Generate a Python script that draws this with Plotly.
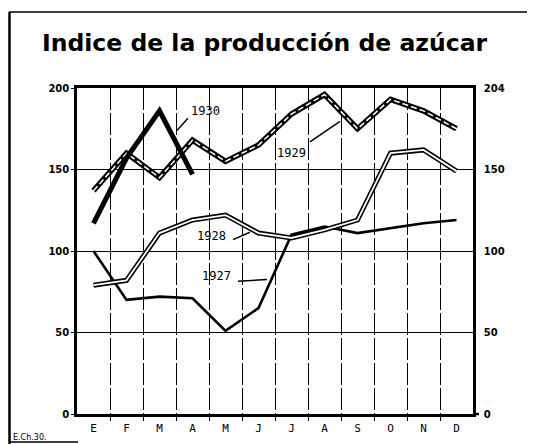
import plotly.graph_objects as go

months = ["E", "F", "M", "A", "M", "J", "J", "A", "S", "O", "N", "D"]
y1927 = [100, 70, 72, 71, 51, 65, 110, 115, 111, 114, 117, 119]
y1928 = [79, 82, 111, 119, 122, 111, 108, 113, 119, 160, 162, 149]
y1929 = [137, 160, 145, 168, 155, 165, 184, 196, 175, 193, 186, 175]
y1930 = [117, 157, 186, 147]
left_ticks = [0, 50, 100, 150, 200]
left_labels = ["0", "50", "100", "150", "200"]
right_labels = ["0", "50", "100", "150", "204"]

xpos = [i + 0.5 for i in range(len(months))]

# page body has an 8px margin: figure is drawn 8px lower/right
OFF = 8
W, H = 535 - OFF, 444 - OFF

fig = go.Figure()
# 1929: double line with dashed white core
fig.add_trace(go.Scatter(x=xpos, y=y1929, mode="lines", line=dict(color="black", width=5.5)))
fig.add_trace(go.Scatter(x=xpos, y=y1929, mode="lines", line=dict(color="white", width=1.5, dash="6px,3px")))
# 1928: double line with white core
fig.add_trace(go.Scatter(x=xpos, y=y1928, mode="lines", line=dict(color="black", width=5)))
fig.add_trace(go.Scatter(x=xpos, y=y1928, mode="lines", line=dict(color="white", width=1.8), yaxis="y2"))
# 1927: solid
fig.add_trace(go.Scatter(x=xpos, y=y1927, mode="lines", line=dict(color="black", width=2.6)))
# 1930: thick solid
fig.add_trace(go.Scatter(x=xpos[:len(y1930)], y=y1930, mode="lines", line=dict(color="black", width=5)))

fig.update_layout(
    width=W, height=H,
    margin=dict(l=77 - OFF, r=62, t=88 - OFF, b=30, autoexpand=False),
    paper_bgcolor="white", plot_bgcolor="white",
    showlegend=False,
    title=dict(text="<b>Indice de la producción de azúcar</b>",
               font=dict(family="DejaVu Sans", size=23.5, color="black"),
               xref="container", yref="container", x=(42 - OFF) / W, xanchor="left",
               y=1 - (43 - OFF) / H, yanchor="middle"),
    xaxis=dict(range=[0, 12], tickvals=xpos, ticktext=months, showgrid=False, automargin=False,
               zeroline=False, showline=True, mirror=True, linecolor="black", linewidth=2.5,
               ticks="", ticklabelstandoff=2,
               tickfont=dict(family="DejaVu Sans Mono", size=11, color="black"),
               minor=dict(tickvals=list(range(1, 12)), showgrid=True, gridcolor="black",
                          gridwidth=1.3, griddash="22px,3px", ticks="outside",
                          ticklen=4, tickcolor="black")),
    yaxis=dict(range=[0, 200], tickvals=left_ticks, ticktext=left_labels, automargin=False,
               showgrid=True, gridcolor="black", gridwidth=1.4, zeroline=False,
               showline=True, linecolor="black", linewidth=2.5,
               ticks="outside", ticklen=3, tickcolor="black",
               tickfont=dict(family="DejaVu Sans", size=10, color="black", weight="bold")),
    yaxis2=dict(range=[0, 200], overlaying="y", side="right", tickvals=left_ticks,
                ticktext=right_labels, showgrid=False, zeroline=False, automargin=False,
                showline=True, linecolor="black", linewidth=2.5, ticks="",
                ticklabelstandoff=6,
                tickfont=dict(family="DejaVu Sans", size=10, color="black", weight="bold")),
)

# labels with leader lines
labels = [
    ("1930", 3.9, 186, (3.03, 174), (3.36, 181.5)),
    ("1929", 6.5, 160, (7.06, 167), (7.97, 179.5)),
    ("1928", 4.09, 109, (4.73, 107), (5.24, 111.5)),
    ("1927", 4.24, 84.5, (4.88, 81.5), (5.76, 82.5)),
]
for txt, tx, ty, p0, p1 in labels:
    fig.add_annotation(x=tx, y=ty, text=txt, showarrow=False,
                       font=dict(family="DejaVu Sans Mono", size=12, color="black"))
    fig.add_shape(type="line", x0=p0[0], y0=p0[1], x1=p1[0], y1=p1[1],
                  line=dict(color="black", width=1.5))

# outer frame (positions given in screen pixels of the reference)
def px(xp):
    return (xp - 77) / 396
def py(yp):
    return (414 - yp) / 326

fig.add_shape(type="line", xref="paper", yref="paper", x0=px(9.5), x1=px(9.5), y0=py(12), y1=py(444),
              line=dict(color="black", width=2.5))
fig.add_shape(type="line", xref="paper", yref="paper", x0=px(9), x1=px(535), y0=py(12), y1=py(12),
              line=dict(color="black", width=1.5))
fig.add_shape(type="line", xref="paper", yref="paper", x0=px(9), x1=px(78), y0=py(442), y1=py(442),
              line=dict(color="black", width=1.5))
fig.add_shape(type="line", xref="paper", yref="paper", x0=px(473), x1=px(479), y0=0, y1=0,
              line=dict(color="black", width=2.5))
fig.add_annotation(xref="paper", yref="paper", x=px(11), y=py(437), xanchor="left", yanchor="middle",
                   text="E.Ch.30.", showarrow=False,
                   font=dict(family="DejaVu Sans", size=8, color="black"))

fig.write_html("out.html")
